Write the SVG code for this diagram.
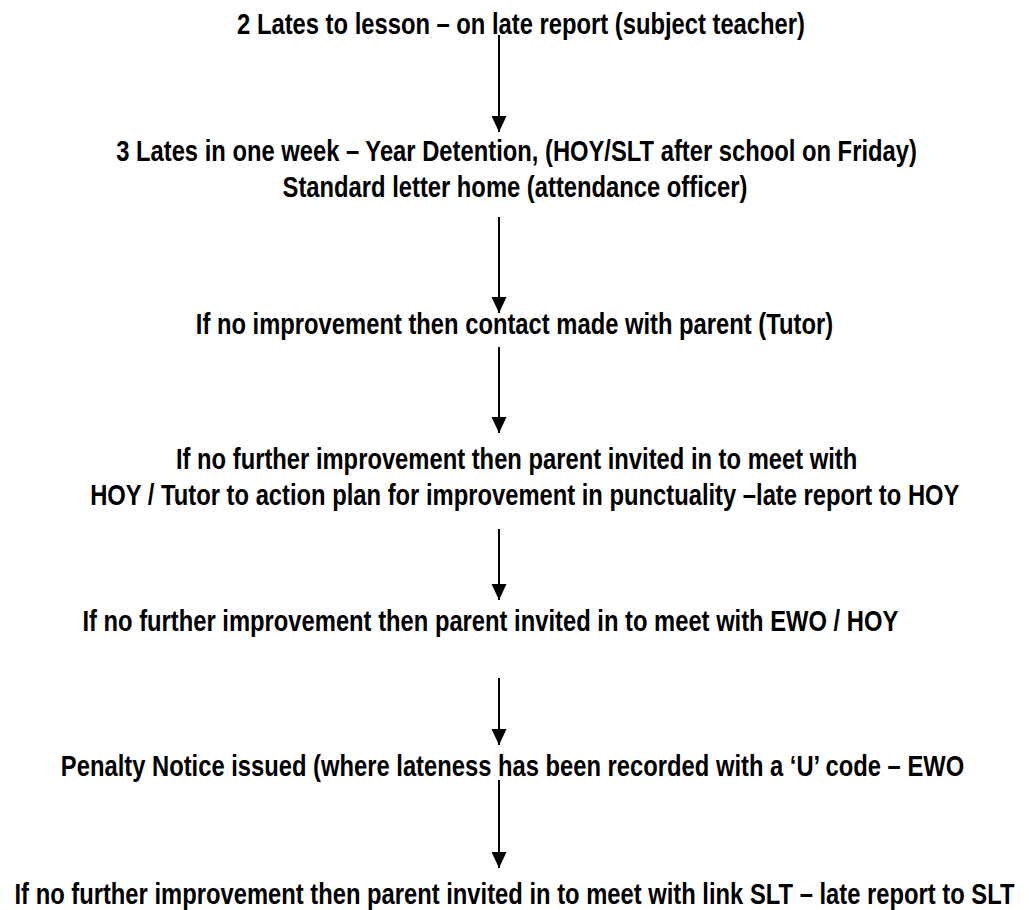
<svg xmlns="http://www.w3.org/2000/svg" width="1029" height="910" viewBox="0 0 1029 910">
<style>
text{font-family:"Liberation Sans Narrow","Arial Narrow","Liberation Sans",Arial,sans-serif;font-weight:bold;font-size:29px;fill:#000;text-anchor:middle}
.c{stroke:#000;stroke-width:2;fill:none}
</style>
<defs>
<marker id="ah" markerUnits="userSpaceOnUse" markerWidth="16" markerHeight="16" viewBox="0 0 16 16" refX="16" refY="8" orient="auto">
<path d="M0,0.5 L16,8 L0,15.5 Z" fill="#000"/>
</marker>
</defs>
<rect width="1029" height="910" fill="#fff"/>
<g transform="scale(0.82,1)">
<g id="n1"><text x="635.4" y="34">2 Lates to lesson – on late report (subject teacher)</text></g>
<g id="n2"><text x="629.9" y="161">3 Lates in one week – Year Detention, (HOY/SLT after school on Friday)</text><text x="628" y="197">Standard letter home (attendance officer)</text></g>
<g id="n3"><text x="627.4" y="334">If no improvement then contact made with parent (Tutor)</text></g>
<g id="n4"><text x="630" y="469">If no further improvement then parent invited in to meet with</text><text x="640" y="505">HOY / Tutor to action plan for improvement in punctuality –late report to HOY</text></g>
<g id="n5"><text x="598" y="631">If no further improvement then parent invited in to meet with EWO / HOY</text></g>
<g id="n6"><text x="625" y="776">Penalty Notice issued (where lateness has been recorded with a ‘U’ code – EWO</text></g>
<g id="n7"><text x="627.4" y="904">If no further improvement then parent invited in to meet with link SLT – late report to SLT</text></g>
</g>
<g id="connectors">
<line class="c" x1="499" y1="35" x2="499" y2="132" marker-end="url(#ah)"/>
<line class="c" x1="499" y1="217" x2="499" y2="313" marker-end="url(#ah)"/>
<line class="c" x1="499" y1="347" x2="499" y2="433" marker-end="url(#ah)"/>
<line class="c" x1="499" y1="529" x2="499" y2="600" marker-end="url(#ah)"/>
<line class="c" x1="499" y1="678" x2="499" y2="745" marker-end="url(#ah)"/>
<line class="c" x1="499" y1="780" x2="499" y2="868" marker-end="url(#ah)"/>
</g>
</svg>
